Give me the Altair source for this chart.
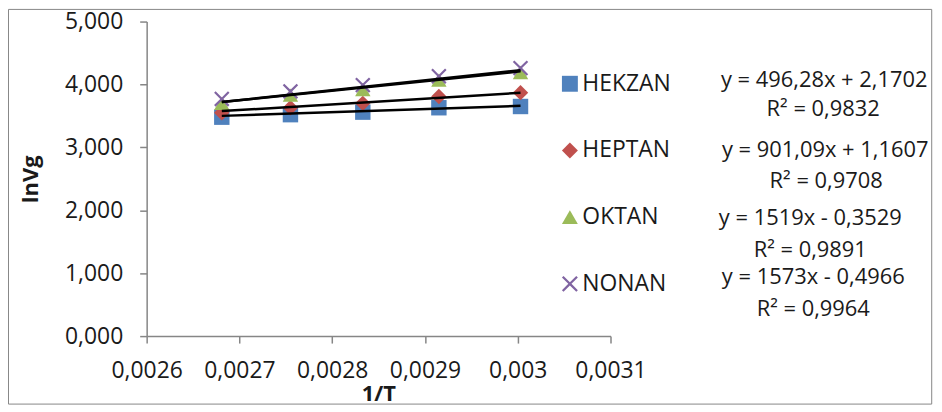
import altair as alt
import pandas as pd

# ---- data ----
series = ["HEKZAN", "HEPTAN", "OKTAN", "NONAN"]
inv_t = [0.002681, 0.002755, 0.002833, 0.002915, 0.003003]
hekzan = [3.48, 3.52, 3.56, 3.63, 3.65]
heptan = [3.55, 3.63, 3.70, 3.81, 3.87]
oktan = [3.70, 3.83, 3.92, 4.07, 4.19]
nonan = [3.77, 3.89, 3.99, 4.13, 4.26]
slopes = [496.28, 901.09, 1519.0, 1573.0]
intercepts = [2.1702, 1.1607, -0.3529, -0.4966]
equations = ["y = 496,28x + 2,1702", "y = 901,09x + 1,1607",
             "y = 1519x - 0,3529", "y = 1573x - 0,4966"]
r_squared = ["R² = 0,9832", "R² = 0,9708", "R² = 0,9891", "R² = 0,9964"]
x_ticks = [0.0026, 0.0027, 0.0028, 0.0029, 0.003, 0.0031]
y_ticks = [0, 1, 2, 3, 4, 5]

# ---- styles ----
colors = ["#4F81BD", "#C0504D", "#9BBB59", "#8064A2"]
X_PATH = ("M-1,-0.8L-0.8,-1L0,-0.2L0.8,-1L1,-0.8L0.2,0L1,0.8L0.8,1"
          "L0,0.2L-0.8,1L-1,0.8L-0.2,0Z")
shapes = ["square", "diamond", "triangle-up", X_PATH]
FONT = "Open Sans"
GRAY = "#868686"
TXT = "#1a1a1a"

W, H = 466, 316

# ---- tables ----
values = [hekzan, heptan, oktan, nonan]
pts = pd.DataFrame([
    {"series": s, "x": x, "y": y, "order": i}
    for i, (s, ys) in enumerate(zip(series, values))
    for x, y in zip(inv_t, ys)
])
lines = pd.DataFrame([
    {"series": s, "x": x, "y": m * x + b}
    for s, m, b in zip(series, slopes, intercepts)
    for x in (min(inv_t), max(inv_t))
])
labels = pd.DataFrame({"series": series, "eq": equations, "r2": r_squared})

x_enc = alt.X("x:Q",
              scale=alt.Scale(domain=[0.0026, 0.0031], nice=False, zero=False),
              axis=alt.Axis(values=x_ticks,
                            labelExpr="replace(format(datum.value, '.4~f'), '.', ',')",
                            title="1/T", titleX=232.7, titleY=65, titleAlign="center",
                            titleBaseline="alphabetic"))
y_enc = alt.Y("y:Q",
              scale=alt.Scale(domain=[0, 5], nice=False),
              axis=alt.Axis(values=y_ticks,
                            labelExpr="replace(format(datum.value, '.3f'), '.', ',')",
                            title="lnVg", titleX=-110, titleY=158, titleAlign="center",
                            titleBaseline="alphabetic", titleAngle=270))

legend = alt.Legend(title=None, orient="none", legendX=413.7, legendY=51,
                    symbolSize=256, symbolStrokeWidth=0, labelFont=FONT,
                    labelFontSize=23, labelColor=TXT, labelOffset=1,
                    rowPadding=43, padding=0, offset=0)

border = alt.Chart(alt.Data(values=[{}])).mark_rect(
    fill="transparent", stroke=GRAY, strokeWidth=1
).encode(x=alt.value(-138.8), x2=alt.value(788.7),
         y=alt.value(-12.2), y2=alt.value(384.3))

points = alt.Chart(pts).mark_point(filled=True, opacity=1, size=240).encode(
    x=x_enc, y=y_enc,
    color=alt.Color("series:N", scale=alt.Scale(domain=series, range=colors), legend=legend),
    shape=alt.Shape("series:N", scale=alt.Scale(domain=series, range=shapes), legend=legend),
    order="order:Q",
)

trend = alt.Chart(lines).mark_line(color="black", strokeWidth=2.5).encode(
    x="x:Q", y="y:Q", detail="series:N"
)

eq_x = [680.7, 681.7, 666.7, 669.7]
eq_y = [58.3, 129.3, 197.3, 256.5]
r2_x = [679.7, 682.7, 666.7, 669.7]
r2_y = [88.3, 160.3, 229.3, 288.8]

text_layers = []
for i, s in enumerate(series):
    base = alt.Chart(labels).transform_filter(alt.datum.series == s)
    text_layers.append(base.mark_text(font=FONT, fontSize=22, color=TXT, align="center",
                                      baseline="middle").encode(
        x=alt.value(eq_x[i]), y=alt.value(eq_y[i]), text="eq:N"))
    text_layers.append(base.mark_text(font=FONT, fontSize=22, color=TXT, align="center",
                                      baseline="middle").encode(
        x=alt.value(r2_x[i]), y=alt.value(r2_y[i]), text="r2:N"))

chart = alt.layer(border, points, trend, *text_layers).properties(
    width=W, height=H,
    autosize=alt.AutoSizeParams(type="none"),
    padding={"left": 139.3, "top": 12.7, "right": 325, "bottom": 69.3},
).configure_view(strokeWidth=0).configure_axis(
    grid=False, domainColor=GRAY, domainWidth=1.5, tickColor=GRAY, tickWidth=1.5,
    tickSize=7, labelFont=FONT, labelFontSize=23, labelColor=TXT, labelPadding=17,
    labelOverlap=False, labelBound=False, labelFlush=False,
    titleFont=FONT, titleFontSize=22, titleFontWeight="bold", titleColor=TXT,
)

chart.save("out.html", embed_options={"renderer": "svg", "actions": False})
